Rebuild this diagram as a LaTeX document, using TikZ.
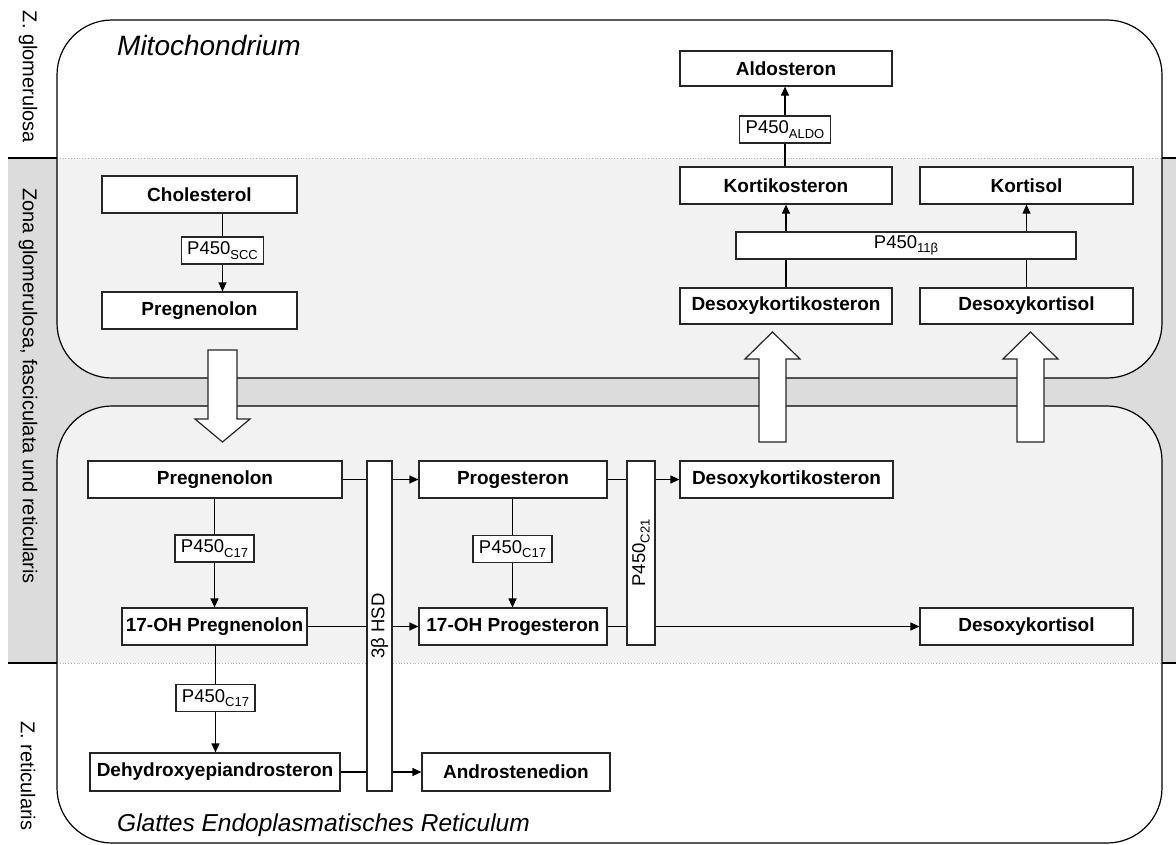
\documentclass[tikz,border=0pt]{standalone}
\usepackage{fontspec}
\setmainfont{Liberation Sans}
\usetikzlibrary{arrows.meta}

\definecolor{zonegray}{HTML}{DCDCDC}
\definecolor{dotgray}{HTML}{F2F2F2}
\newcommand{\enzsub}[1]{\raisebox{-0.45ex}{\fontsize{13}{14}\selectfont #1}}

\begin{document}
\begin{tikzpicture}[x=1pt, y=-1pt,
    stoff/.style={draw=black!85, fill=white, line width=1.2pt, minimum height=37pt, inner xsep=1pt, inner ysep=0pt, font=\bfseries\fontsize{19}{22}\selectfont},
    enzym/.style={draw=black!85, fill=white, line width=1.2pt, minimum height=27pt, inner xsep=6pt, inner ysep=0pt, font=\fontsize{18.5}{20}\selectfont},
    zone/.style={font=\fontsize{20}{22}\selectfont, inner sep=0pt},
    linie/.style={line width=1.2pt},
    pfeil/.style={-{Triangle[length=9pt,width=8pt]}, line width=1.2pt},
    hohlpfeil/.style={draw=black!85, fill=white, line width=1.2pt, line join=miter}]
    \useasboundingbox (0,0) rectangle (1176,844);
    %% zones
    \fill[zonegray] (8,158) rectangle (1176,663);
    \draw[linie] (8,158) -- (57,158) (8,663) -- (57,663) (1162,158) -- (1176,158) (1162,663) -- (1176,663);
    \foreach \ya/\yb in {20/378, 406/843} {
        \begin{scope}
            \clip[rounded corners=55pt] (57,\ya) rectangle (1162,\yb);
            \fill[white] (57,\ya) rectangle (1162,\yb);
            \fill[dotgray] (57,158) rectangle (1162,663);
            \draw[gray!60, dotted, line width=0.8pt] (57,158) -- (1162,158) (57,663) -- (1162,663);
        \end{scope}
        \draw[linie, rounded corners=55pt] (57,\ya) rectangle (1162,\yb);
    }
    \node[zone, rotate=-90] (zglom) at (28,77) {Z. glomerulosa};
    \node[zone, rotate=-90] (zall) at (28,386) {Zona glomerulosa, fasciculata und reticularis};
    \node[zone, rotate=-90] (zret) at (28,776) {Z. reticularis};
    \node[anchor=west, inner sep=0pt, font=\itshape\fontsize{28}{30}\selectfont] (mito) at (117,45) {Mitochondrium};
    \node[anchor=west, inner sep=0pt, font=\itshape\fontsize{24.5}{28}\selectfont] (ser) at (117,825) {Glattes Endoplasmatisches Reticulum};
    %% transport between the compartments
    \draw[hohlpfeil] (208,350) -- (237,350) -- (237,419) -- (250,419) -- (222.5,442) -- (195,419) -- (208,419) -- cycle;
    \foreach \x in {772.5, 1030.5}
        \draw[hohlpfeil] (\x-13.5,442) -- (\x+13.5,442) -- (\x+13.5,359) -- (\x+27.5,359) -- (\x,332) -- (\x-27.5,359) -- (\x-13.5,359) -- cycle;
    %% mitochondrium
    \node[stoff, minimum width=195pt] (chol) at (199.5,194.5) {Cholesterol};
    \node[enzym] (scc) at (222.5,250.5) {P450\enzsub{SCC}};
    \node[stoff, minimum width=195pt] (preg1) at (199.5,310.5) {Pregnenolon};
    \node[stoff, minimum width=212pt, minimum height=35pt] (aldo) at (786,68.5) {Aldosteron};
    \node[enzym] (paldo) at (785,129.5) {P450\enzsub{ALDO}};
    \node[stoff, minimum width=212pt] (korti) at (786,185.5) {Kortikosteron};
    \node[stoff, minimum width=213pt] (kortisol) at (1026.5,185.5) {Kortisol};
    \node[enzym, minimum width=340pt] (p11) at (906,245.5) {P450\enzsub{11β}};
    \node[stoff, minimum width=212pt, minimum height=36pt] (doc1) at (786,306) {Desoxykortikosteron};
    \node[stoff, minimum width=213pt, minimum height=36pt] (dof1) at (1026.5,306) {Desoxykortisol};
    %% endoplasmatisches reticulum
    \node[stoff, minimum width=254pt] (preg2) at (215,479.5) {Pregnenolon};
    \node[enzym] (c17a) at (214.5,548.5) {P450\enzsub{C17}};
    \node[stoff, minimum width=185pt] (ohpreg) at (214.5,626.5) {17-OH Pregnenolon};
    \node[enzym] (c17b) at (215.5,698) {P450\enzsub{C17}};
    \node[stoff, minimum width=250pt, minimum height=38pt] (dhea) at (215,772) {Dehydroxyepiandrosteron};
    \node[enzym, rotate=90, minimum width=330pt, minimum height=25pt] (hsd) at (379.5,626) {3β HSD};
    \node[stoff, minimum width=188pt] (prog) at (513,479.5) {Progesteron};
    \node[enzym] (c17c) at (512.5,549) {P450\enzsub{C17}};
    \node[stoff, minimum width=188pt] (ohprog) at (513,626.5) {17-OH Progesteron};
    \node[enzym, rotate=90, minimum width=184pt, minimum height=28pt] (c21) at (641,553) {P450\enzsub{C21}};
    \node[stoff, minimum width=213pt] (doc2) at (786.5,479.5) {Desoxykortikosteron};
    \node[stoff, minimum width=213pt] (dof2) at (1026.5,626.5) {Desoxykortisol};
    \node[stoff, minimum width=188pt, minimum height=38pt] (andro) at (516,772) {Androstenedion};
    %% reactions
    \draw[linie] (chol.south -| scc) -- (scc.north);
    \draw[pfeil] (scc.south) -- (scc.south |- preg1.north);
    \draw[linie] (paldo.south |- korti.north) -- (paldo.south);
    \draw[pfeil] (paldo.north) -- (paldo.north |- aldo.south);
    \draw[linie] (doc1.north) -- (doc1.north |- p11.south);
    \draw[pfeil] (doc1.north |- p11.north) -- (korti.south);
    \draw[linie] (dof1.north) -- (dof1.north |- p11.south);
    \draw[pfeil] (dof1.north |- p11.north) -- (kortisol.south);
    \draw[linie] (preg2.east) -- (preg2.east -| hsd.north);
    \draw[pfeil] (preg2.east -| hsd.south) -- (prog.west);
    \draw[linie] (ohpreg.east) -- (ohpreg.east -| hsd.north);
    \draw[pfeil] (ohpreg.east -| hsd.south) -- (ohprog.west);
    \draw[linie] (dhea.east) -- (dhea.east -| hsd.north);
    \draw[pfeil] (dhea.east -| hsd.south) -- (andro.west);
    \draw[linie] (prog.east) -- (prog.east -| c21.north);
    \draw[pfeil] (prog.east -| c21.south) -- (doc2.west);
    \draw[linie] (ohprog.east) -- (ohprog.east -| c21.north);
    \draw[pfeil] (ohprog.east -| c21.south) -- (dof2.west);
    \draw[linie] (preg2.south -| c17a) -- (c17a.north);
    \draw[pfeil] (c17a.south) -- (c17a.south |- ohpreg.north);
    \draw[linie] (ohpreg.south -| c17b) -- (c17b.north);
    \draw[pfeil] (c17b.south) -- (c17b.south |- dhea.north);
    \draw[linie] (prog.south -| c17c) -- (c17c.north);
    \draw[pfeil] (c17c.south) -- (c17c.south |- ohprog.north);
\end{tikzpicture}
\end{document}
